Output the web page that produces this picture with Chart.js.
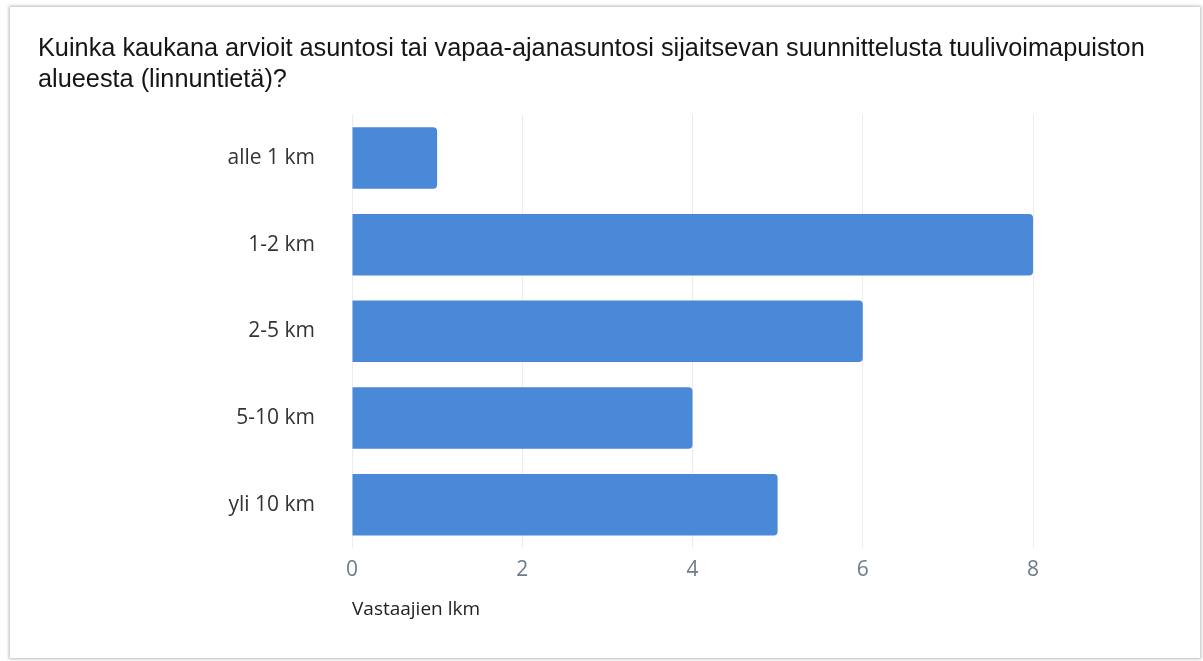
<!DOCTYPE html>
<html>
<head>
<meta charset="utf-8">
<script src="https://cdn.jsdelivr.net/npm/chart.js@4"></script>
<style>
  html, body { margin: 0; padding: 0; background: #ffffff; }
  body { width: 1203px; height: 661px; position: relative; overflow: hidden; }
  #card {
    position: absolute; left: 10px; top: 7px; width: 1190px; height: 651px;
    background: #ffffff;
    box-shadow: 0 0 3px 1px rgba(0,0,0,0.28);
  }
  #chart { display: block; }
</style>
</head>
<body>
<div id="card"><canvas id="chart" width="1190" height="651"></canvas></div>
<script>
// --- data ---
const categories = ['alle 1 km', '1-2 km', '2-5 km', '5-10 km', 'yli 10 km'];
const responses = [1, 8, 6, 4, 5];
const xTicks = [0, 2, 4, 6, 8];
const titleLines = [
    'Kuinka kaukana arvioit asuntosi tai vapaa-ajanasuntosi sijaitsevan suunnittelusta tuulivoimapuiston',
    'alueesta (linnuntietä)?'
];
const xAxisTitle = 'Vastaajien lkm';

document.addEventListener('DOMContentLoaded', function () {
    const ctx = document.getElementById('chart');

    new Chart(ctx, {
        type: 'bar',
        data: {
            labels: categories,
            datasets: [{
                label: xAxisTitle,
                data: responses,
                backgroundColor: '#4a89d8',
                borderRadius: 4,
                borderSkipped: 'start',
                barPercentage: 0.71,
                categoryPercentage: 1
            }]
        },
        options: {
            indexAxis: 'y',
            responsive: false,
            animation: false,
            layout: { padding: { left: 28, right: 10, top: 27, bottom: 37 } },
            plugins: {
                legend: { display: false },
                tooltip: { enabled: false },
                title: {
                    display: true,
                    text: titleLines,
                    align: 'start',
                    color: '#151515',
                    font: { family: "Arial, Helvetica, sans-serif", size: 25.3, weight: 'normal', lineHeight: 1.2 },
                    padding: { top: 0, bottom: 20 }
                }
            },
            scales: {
                x: {
                    min: 0,
                    max: 8,
                    afterBuildTicks: (scale) => { scale.ticks = xTicks.map(v => ({ value: v })); },
                    grid: { color: '#ececec', drawTicks: false },
                    border: { display: false },
                    ticks: {
                        color: '#6e7b8a',
                        padding: 9,
                        font: { family: "'Open Sans', sans-serif", size: 21 }
                    },
                    title: {
                        display: true,
                        text: xAxisTitle,
                        align: 'start',
                        color: '#222222',
                        font: { family: "'Open Sans', sans-serif", size: 19 },
                        padding: { top: 7, bottom: 0 }
                    }
                },
                y: {
                    grid: { display: false },
                    border: { display: false },
                    afterFit: (scale) => { scale.width = 314; },
                    ticks: {
                        color: '#333333',
                        padding: 29,
                        font: { family: "'Open Sans', sans-serif", size: 21 }
                    }
                },
                // tyhjä akseli oikealla: varaa tilaa kaavion oikealle puolelle
                spacer: {
                    type: 'linear',
                    position: 'right',
                    grid: { display: false },
                    border: { display: false },
                    ticks: { display: false },
                    afterFit: (scale) => { scale.width = 157; }
                }
            }
        }
    });
});
</script>
</body>
</html>
